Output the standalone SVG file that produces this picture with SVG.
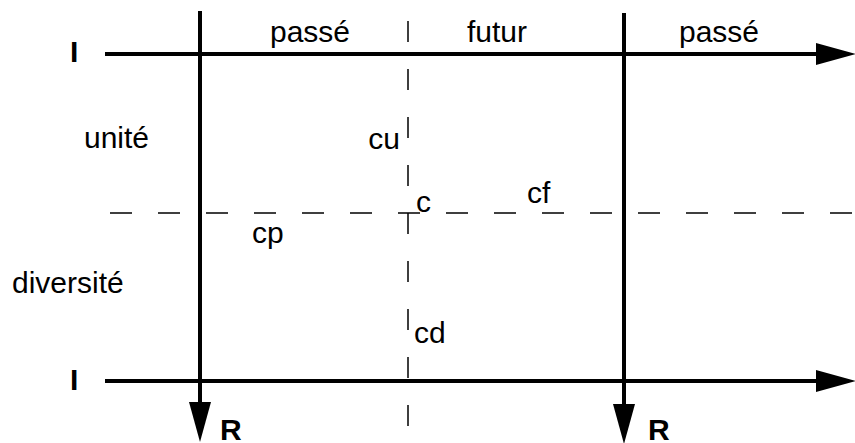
<svg xmlns="http://www.w3.org/2000/svg" width="855" height="443" viewBox="0 0 855 443">
<style>
.axis{stroke:#000;stroke-width:4;fill:none}
.dash{stroke:#000;stroke-width:1.5;fill:none}
.lbl{font-family:"Liberation Sans",Arial,sans-serif;font-size:30px;fill:#000}
.bold{font-weight:bold}
</style>
<defs>
<marker id="arr" markerUnits="userSpaceOnUse" markerWidth="42" markerHeight="24" refX="0" refY="11" orient="auto">
<path d="M0,0 L40,11 L0,22 Z" fill="#000"/>
</marker>
</defs>
<rect width="855" height="443" fill="#fff"/>
<g id="connectors">
<line class="dash" x1="110" y1="213" x2="854" y2="213" stroke-dasharray="22 26"/>
<line class="dash" x1="408" y1="21" x2="408" y2="427" stroke-dasharray="21 27"/>
<line class="axis" x1="105" y1="54" x2="816" y2="54" marker-end="url(#arr)"/>
<line class="axis" x1="105" y1="381" x2="816" y2="381" marker-end="url(#arr)"/>
<line class="axis" x1="200" y1="11" x2="200" y2="402" marker-end="url(#arr)"/>
<line class="axis" x1="624" y1="13" x2="624" y2="404" marker-end="url(#arr)"/>
</g>
<g id="label-I-top"><text class="lbl bold" x="70" y="62">I</text></g>
<g id="label-I-bottom"><text class="lbl bold" x="70" y="390">I</text></g>
<g id="label-passe-left"><text class="lbl" x="270" y="42">passé</text></g>
<g id="label-futur"><text class="lbl" x="467" y="42">futur</text></g>
<g id="label-passe-right"><text class="lbl" x="679" y="42">passé</text></g>
<g id="label-unite"><text class="lbl" x="84" y="148">unité</text></g>
<g id="label-cu"><text class="lbl" x="400" y="149" text-anchor="end">cu</text></g>
<g id="label-c"><text class="lbl" x="416" y="212">c</text></g>
<g id="label-cf"><text class="lbl" x="527" y="203">cf</text></g>
<g id="label-cp"><text class="lbl" x="252" y="243">cp</text></g>
<g id="label-diversite"><text class="lbl" x="12" y="293">diversité</text></g>
<g id="label-cd"><text class="lbl" x="414" y="343">cd</text></g>
<g id="label-R-left"><text class="lbl bold" x="220" y="440">R</text></g>
<g id="label-R-right"><text class="lbl bold" x="648" y="440">R</text></g>
</svg>
